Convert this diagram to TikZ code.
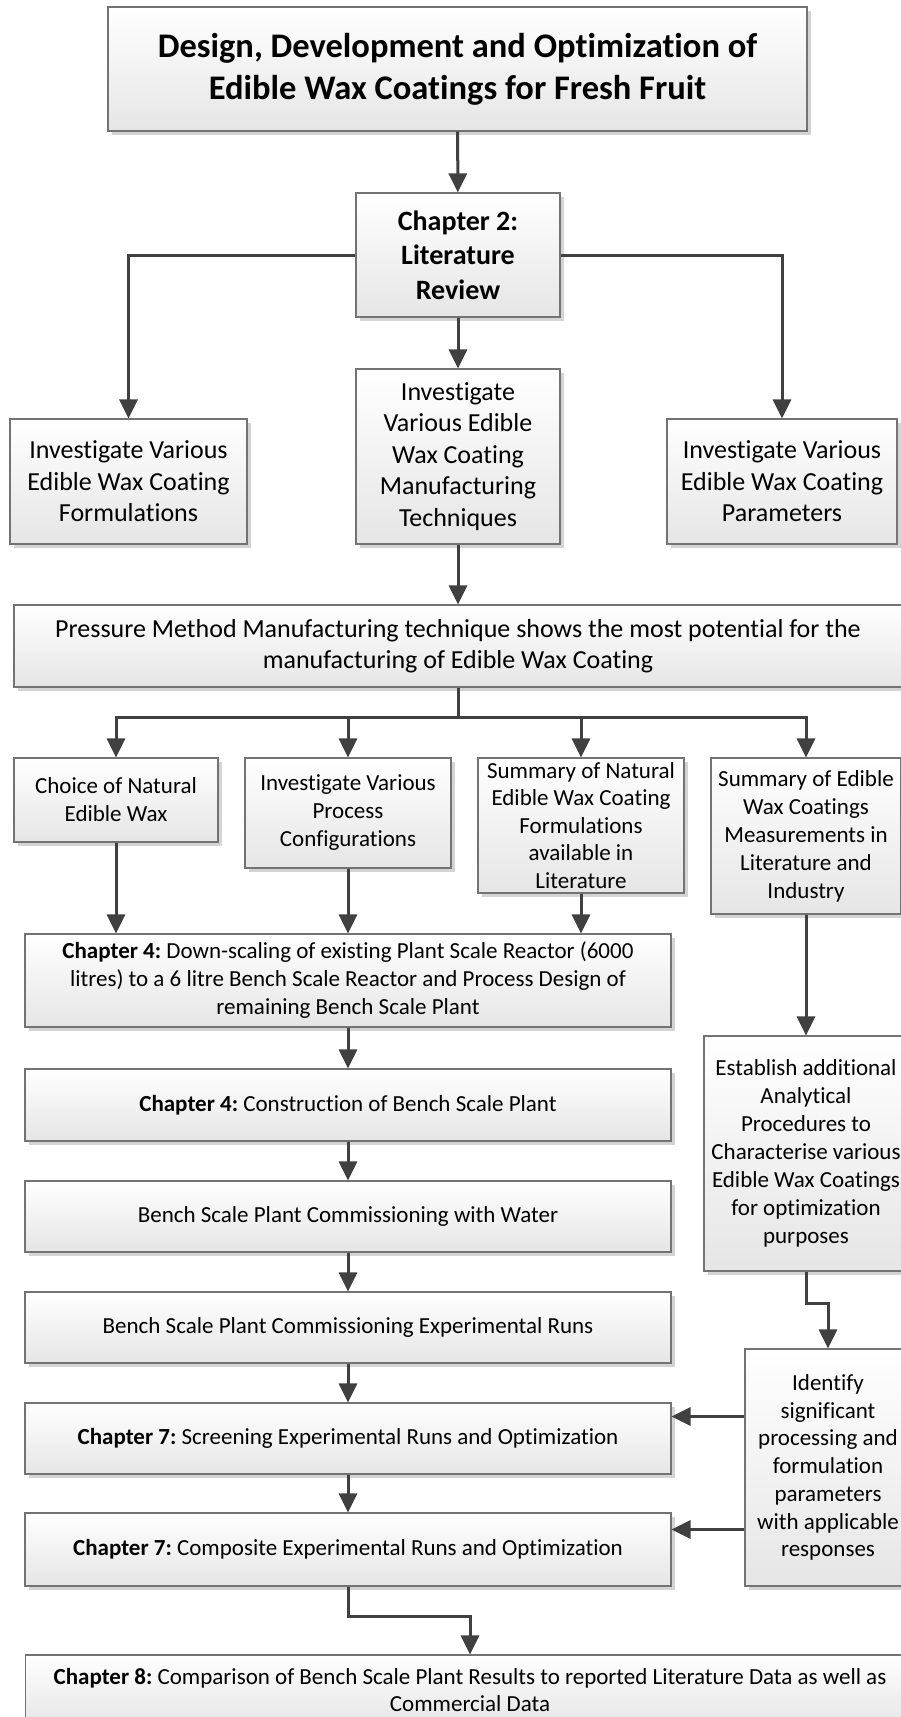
\documentclass[tikz,border=0pt]{standalone}
\usepackage{fontspec}
\setmainfont{Carlito}[Ligatures={NoCommon}]
\usetikzlibrary{arrows.meta,shadows}
\frenchspacing

\tikzset{
  box/.style={draw=black!55, line width=1.1pt, top color=white, bottom color=black!10,
    drop shadow={shadow xshift=4pt, shadow yshift=-4pt, fill=black!17, opacity=1},
    align=center, inner sep=0pt, font=\fontsize{23}{28}\selectfont},
  big/.style={font=\fontsize{26}{31.5}\selectfont},
  flow/.style={draw=black!75, line width=3pt, -{Triangle[length=19pt,width=18pt]}},
}

\begin{document}
\begin{tikzpicture}[x=1pt, y=-1pt]
    \useasboundingbox (0,0) rectangle (901,1717);

    % top of the tree
    \node[box, minimum width=699, minimum height=124, font=\bfseries\fontsize{34.5}{42}\selectfont] (title) at (457.5,69)
      {Design, Development and Optimization of\\Edible Wax Coatings for Fresh Fruit};
    \node[box, minimum width=204, minimum height=124, font=\bfseries\fontsize{28}{34.5}\selectfont] (litreview) at (458,255)
      {Chapter 2:\\Literature\\Review};
    \node[box, big, minimum width=237, minimum height=125] (formulations) at (128.5,481.5)
      {Investigate Various\\Edible Wax Coating\\Formulations};
    \node[box, big, minimum width=204, minimum height=175] (techniques) at (458,456.5)
      {Investigate\\Various Edible\\Wax Coating\\Manufacturing\\Techniques};
    \node[box, big, minimum width=230, minimum height=125] (parameters) at (782,481.5)
      {Investigate Various\\Edible Wax Coating\\Parameters};
    \node[box, big, minimum width=888, minimum height=82] (pressure) at (458,646)
      {Pressure Method Manufacturing technique shows the most potential for the\\manufacturing of Edible Wax Coating};

    % second row
    \node[box, minimum width=204, minimum height=84] (naturalwax) at (116,800)
      {Choice of Natural\\Edible Wax};
    \node[box, minimum width=206, minimum height=110] (processconfig) at (348,813)
      {Investigate Various\\Process\\Configurations};
    \node[box, minimum width=206, minimum height=135, font=\fontsize{23}{27.5}\selectfont] (formsummary) at (581,825.5)
      {Summary of Natural\\Edible Wax Coating\\Formulations\\available in\\Literature};
    \node[box, minimum width=190, minimum height=156] (measurements) at (806,836)
      {Summary of Edible\\Wax Coatings\\Measurements in\\Literature and\\Industry};

    % bench scale chain
    \node[box, minimum width=646, minimum height=93] (downscale) at (348,980.5)
      {\textbf{Chapter 4:} Down-scaling of existing Plant Scale Reactor (6000\\litres) to a 6 litre Bench Scale Reactor and Process Design of\\remaining Bench Scale Plant};
    \node[box, minimum width=646, minimum height=72] (construction) at (348,1105)
      {\textbf{Chapter 4:} Construction of Bench Scale Plant};
    \node[box, minimum width=646, minimum height=71] (water) at (348,1216.5)
      {Bench Scale Plant Commissioning with Water};
    \node[box, minimum width=646, minimum height=71] (commission) at (348,1327.5)
      {Bench Scale Plant Commissioning Experimental Runs};
    \node[box, minimum width=646, minimum height=71] (screening) at (348,1438.5)
      {\textbf{Chapter 7:} Screening Experimental Runs and Optimization};
    \node[box, minimum width=646, minimum height=73] (composite) at (348,1549.5)
      {\textbf{Chapter 7:} Composite Experimental Runs and Optimization};
    \node[box, minimum width=889, minimum height=70, font=\fontsize{23}{27}\selectfont] (compare) at (470,1690)
      {\textbf{Chapter 8:} Comparison of Bench Scale Plant Results to reported Literature Data as well as\\Commercial Data};

    % right column
    \node[box, minimum width=204, minimum height=235] (analytical) at (806,1153.5)
      {Establish additional\\Analytical\\Procedures to\\Characterise various\\Edible Wax Coatings\\for optimization\\purposes};
    \node[box, minimum width=166, minimum height=237, font=\fontsize{23}{27.7}\selectfont] (identify) at (828,1467.5)
      {Identify\\significant\\processing and\\formulation\\parameters\\with applicable\\responses};

    % connectors
    \draw[flow] (title) -- (litreview);
    \draw[flow] (litreview.west) -| (formulations.north);
    \draw[flow] (litreview.east) -| (parameters.north);
    \draw[flow] (litreview) -- (techniques);
    \draw[flow] (techniques) -- (pressure);

    \coordinate (split) at (458,717);
    \draw[draw=black!75, line width=3pt] (pressure.south) -- (split);
    \foreach \n in {naturalwax,processconfig,formsummary,measurements}
      \draw[flow] (split) -| (\n.north);

    \foreach \n in {naturalwax,processconfig,formsummary}
      \draw[flow] (\n.south) -- (\n.south |- downscale.north);
    \draw[flow] (measurements) -- (analytical);

    \foreach \a/\b in {downscale/construction,construction/water,water/commission,commission/screening,screening/composite}
      \draw[flow] (\a) -- (\b);

    \draw[flow] (analytical.south) -- ++(0,32) -| (identify.north);
    \draw[flow] ([yshift=22pt]screening.east -| identify.west) -- ([yshift=22pt]screening.east);
    \draw[flow] ([yshift=20pt]composite.east -| identify.west) -- ([yshift=20pt]composite.east);
    \draw[flow] (composite.south) -- ++(0,30) -| (compare.north);

\end{tikzpicture}
\end{document}
